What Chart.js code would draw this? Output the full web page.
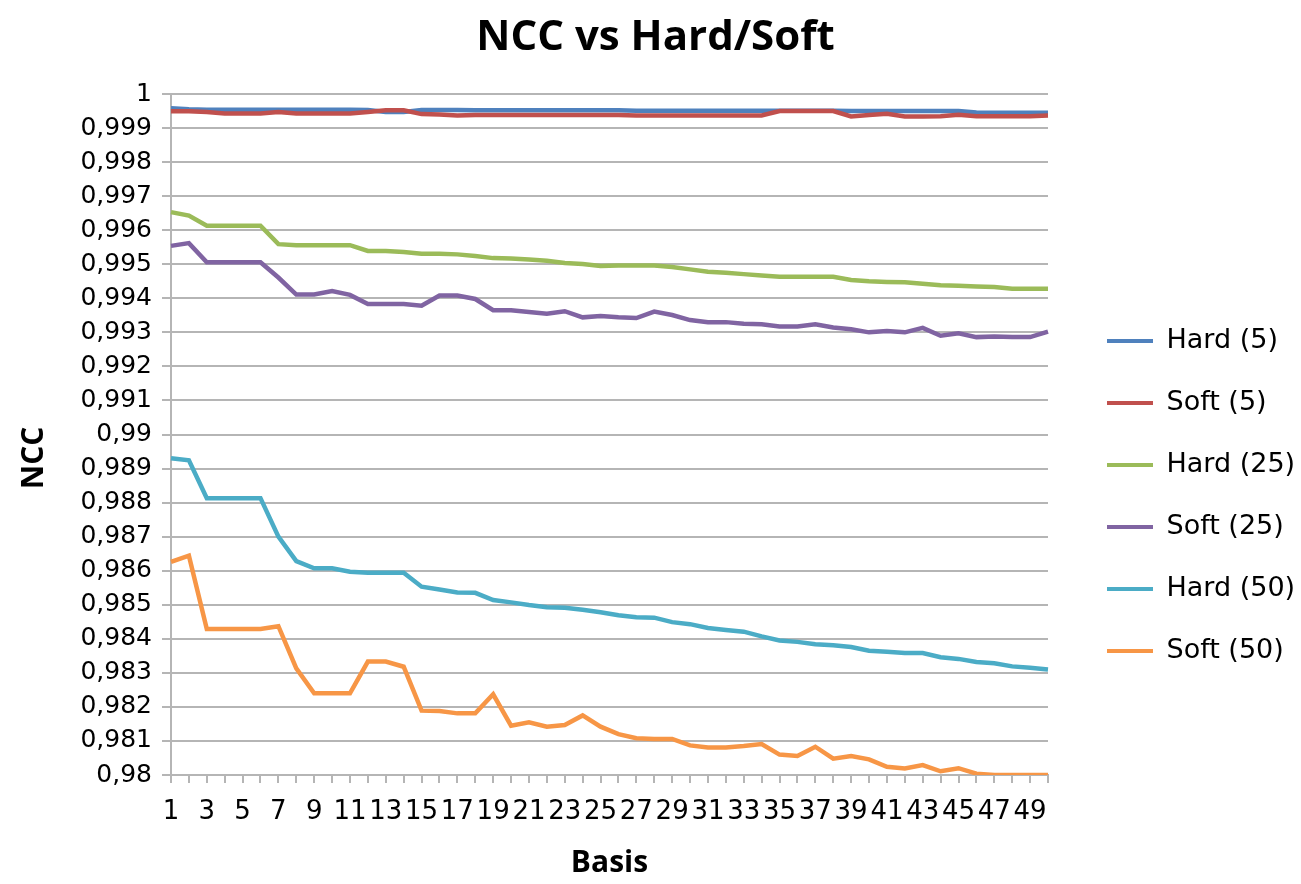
<!DOCTYPE html>
<html>
<head>
<meta charset="utf-8">
<title>NCC vs Hard/Soft</title>
<script src="https://cdn.jsdelivr.net/npm/chart.js@4.4.1/dist/chart.umd.min.js"></script>
<style>
  html, body { margin: 0; padding: 0; background: #ffffff; }
  #chart { display: block; }
</style>
</head>
<body>
<canvas id="chart" width="1301" height="884"></canvas>
<script>
const categories = ['1', '2', '3', '4', '5', '6', '7', '8', '9', '10',
  '11', '12', '13', '14', '15', '16', '17', '18', '19', '20',
  '21', '22', '23', '24', '25', '26', '27', '28', '29', '30',
  '31', '32', '33', '34', '35', '36', '37', '38', '39', '40',
  '41', '42', '43', '44', '45', '46', '47', '48', '49', '50'];

// only every other basis count gets a label
const xTickLabels = ['1', '3', '5', '7', '9', '11', '13', '15', '17', '19', '21', '23', '25',
  '27', '29', '31', '33', '35', '37', '39', '41', '43', '45', '47', '49'];

const yTickValues = [0.98, 0.981, 0.982, 0.983, 0.984, 0.985, 0.986, 0.987, 0.988, 0.989, 0.99,
  0.991, 0.992, 0.993, 0.994, 0.995, 0.996, 0.997, 0.998, 0.999, 1];

const seriesNames = ['Hard (5)', 'Soft (5)', 'Hard (25)', 'Soft (25)', 'Hard (50)', 'Soft (50)'];
const seriesColors = ['#4f81bd', '#c0504d', '#9bbb59', '#8064a2', '#4bacc6', '#f79646'];

const hard5 = [0.99958, 0.99955, 0.99954, 0.99954, 0.99954, 0.99954, 0.99954, 0.99954, 0.99954, 0.99954,
  0.99954, 0.99953, 0.99947, 0.99947, 0.99953, 0.99953, 0.99953, 0.99952, 0.99952, 0.99952,
  0.99952, 0.99952, 0.99952, 0.99952, 0.99952, 0.99952, 0.99951, 0.99951, 0.99951, 0.99951,
  0.99951, 0.99951, 0.99951, 0.99951, 0.99951, 0.99951, 0.99951, 0.99951, 0.9995, 0.9995,
  0.9995, 0.9995, 0.9995, 0.9995, 0.9995, 0.99946, 0.99945, 0.99945, 0.99945, 0.99945];

const soft5 = [0.99949, 0.99949, 0.99947, 0.99943, 0.99943, 0.99943, 0.99947, 0.99943, 0.99943, 0.99943,
  0.99943, 0.99947, 0.99952, 0.99952, 0.99941, 0.9994, 0.99937, 0.99938, 0.99938, 0.99938,
  0.99938, 0.99938, 0.99938, 0.99938, 0.99938, 0.99938, 0.99937, 0.99937, 0.99937, 0.99937,
  0.99937, 0.99937, 0.99937, 0.99937, 0.9995, 0.9995, 0.9995, 0.9995, 0.99934, 0.99938,
  0.99942, 0.99934, 0.99934, 0.99935, 0.99939, 0.99935, 0.99935, 0.99935, 0.99935, 0.99937];

const hard25 = [0.99653, 0.99643, 0.99613, 0.99613, 0.99613, 0.99613, 0.99559, 0.99556, 0.99556, 0.99556,
  0.99556, 0.99539, 0.99539, 0.99536, 0.99531, 0.99531, 0.99529, 0.99524, 0.99518, 0.99517,
  0.99514, 0.9951, 0.99504, 0.99501, 0.99495, 0.99496, 0.99496, 0.99496, 0.99492, 0.99485,
  0.99478, 0.99475, 0.99471, 0.99467, 0.99463, 0.99463, 0.99463, 0.99463, 0.99454, 0.9945,
  0.99448, 0.99447, 0.99443, 0.99438, 0.99437, 0.99435, 0.99433, 0.99428, 0.99428, 0.99428];

const soft25 = [0.99554, 0.99562, 0.99506, 0.99506, 0.99506, 0.99506, 0.99461, 0.99411, 0.99411, 0.99421,
  0.9941, 0.99383, 0.99383, 0.99383, 0.99378, 0.99408, 0.99408, 0.99398, 0.99365, 0.99365,
  0.9936, 0.99355, 0.99362, 0.99344, 0.99348, 0.99344, 0.99342, 0.99361, 0.99351, 0.99336,
  0.9933, 0.9933, 0.99325, 0.99324, 0.99317, 0.99317, 0.99324, 0.99314, 0.99309, 0.993,
  0.99304, 0.993, 0.99313, 0.9929, 0.99297, 0.99286, 0.99288, 0.99286, 0.99286, 0.99302];

const hard50 = [0.9893, 0.98924, 0.98813, 0.98813, 0.98813, 0.98813, 0.987, 0.98628, 0.98607, 0.98607,
  0.98597, 0.98594, 0.98594, 0.98594, 0.98553, 0.98545, 0.98536, 0.98535, 0.98514, 0.98507,
  0.98499, 0.98493, 0.98491, 0.98485, 0.98478, 0.98469, 0.98463, 0.98462, 0.98449, 0.98443,
  0.98432, 0.98426, 0.98421, 0.98407, 0.98395, 0.98391, 0.98384, 0.98381, 0.98376, 0.98365,
  0.98362, 0.98358, 0.98358, 0.98346, 0.98341, 0.98332, 0.98328, 0.98319, 0.98315, 0.9831];

const soft50 = [0.98626, 0.98644, 0.98429, 0.98429, 0.98429, 0.98429, 0.98437, 0.98313, 0.9824, 0.9824,
  0.9824, 0.98333, 0.98333, 0.98318, 0.98189, 0.98188, 0.98181, 0.98181, 0.98237, 0.98145,
  0.98155, 0.98142, 0.98147, 0.98175, 0.98142, 0.9812, 0.98108, 0.98106, 0.98106, 0.98087,
  0.98081, 0.98081, 0.98085, 0.98091, 0.9806, 0.98056, 0.98083, 0.98048, 0.98056, 0.98046,
  0.98024, 0.98019, 0.98029, 0.98011, 0.9802, 0.98004, 0.98, 0.98, 0.98, 0.98];

const seriesValues = [hard5, soft5, hard25, soft25, hard50, soft50];

const gridColor = '#b5b5b5';

Chart.defaults.font.family = "'DejaVu Sans', sans-serif";
Chart.defaults.color = '#000000';

const datasets = seriesNames.map((name, i) => ({
  label: name,
  data: seriesValues[i],
  borderColor: seriesColors[i],
  backgroundColor: seriesColors[i],
  borderWidth: 4.5,
  pointRadius: 0,
  pointHoverRadius: 0,
  tension: 0,
  fill: false,
  // later series are painted over earlier ones
  order: seriesNames.length - i
}));

const ctx = document.getElementById('chart').getContext('2d');

new Chart(ctx, {
  type: 'line',
  data: { labels: categories, datasets: datasets },
  options: {
    responsive: false,
    animation: false,
    devicePixelRatio: 1,
    layout: { padding: { left: 10, right: 0, top: 0, bottom: 0 } },
    plugins: {
      title: {
        display: true,
        text: 'NCC vs Hard/Soft',
        font: { family: "'Open Sans', sans-serif", size: 42, weight: 'bold' },
        padding: { top: 13, bottom: 30.6 }
      },
      legend: {
        display: true,
        position: 'right',
        align: 'center',
        fullSize: false,
        maxWidth: 229,
        // blank title pushes the column of entries a little lower
        title: {
          display: true,
          text: ' ',
          font: { size: 10 },
          padding: { top: 111, bottom: 0 }
        },
        labels: {
          boxWidth: 46,
          boxHeight: 4,
          padding: 35,
          font: { size: 27 },
          sort: (a, b) => a.datasetIndex - b.datasetIndex,
          generateLabels: (chart) => {
            const items = Chart.defaults.plugins.legend.labels.generateLabels(chart);
            items.forEach((item) => {
              item.lineWidth = 0;
              item.fillStyle = item.strokeStyle;
            });
            return items;
          }
        }
      },
      tooltip: { enabled: false }
    },
    scales: {
      x: {
        type: 'category',
        offset: false,
        afterFit: (scale) => { scale.height = 109; },
        grid: {
          display: true,
          drawOnChartArea: false,
          drawTicks: true,
          tickLength: 8,
          color: gridColor,
          lineWidth: 2
        },
        border: { display: true, color: gridColor, width: 2 },
        ticks: {
          autoSkip: false,
          maxRotation: 0,
          minRotation: 0,
          padding: 14,
          font: { size: 26 },
          callback: function (value) {
            const label = this.getLabelForValue(value);
            return xTickLabels.includes(label) ? label : '';
          }
        },
        title: {
          display: true,
          text: 'Basis',
          font: { family: "'Open Sans', sans-serif", size: 30, weight: 'bold' },
          padding: { top: 0, bottom: 3 }
        }
      },
      y: {
        type: 'linear',
        position: 'left',
        min: 0.98,
        max: 1,
        afterFit: (scale) => { scale.width = 161; },
        afterBuildTicks: (scale) => {
          scale.ticks = yTickValues.map((v) => ({ value: v }));
        },
        grid: {
          display: true,
          drawTicks: true,
          tickLength: 9,
          color: gridColor,
          lineWidth: 2
        },
        border: { display: true, color: gridColor, width: 2 },
        ticks: {
          padding: 10,
          font: { size: 25 },
          callback: (value) => String(parseFloat(Number(value).toFixed(3))).replace('.', ',')
        },
        title: {
          display: true,
          // trailing spaces keep the word a little below the middle of the axis
          text: 'NCC      ',
          font: { family: "'Open Sans', sans-serif", size: 30, weight: 'bold' },
          padding: { top: 6, bottom: 0 }
        }
      },
      // empty spacer between the plot and the legend
      gap: {
        type: 'linear',
        position: 'right',
        display: true,
        afterFit: (scale) => { scale.width = 24; },
        grid: { display: false, drawTicks: false },
        border: { display: false },
        ticks: { display: false }
      }
    }
  }
});
</script>
</body>
</html>
